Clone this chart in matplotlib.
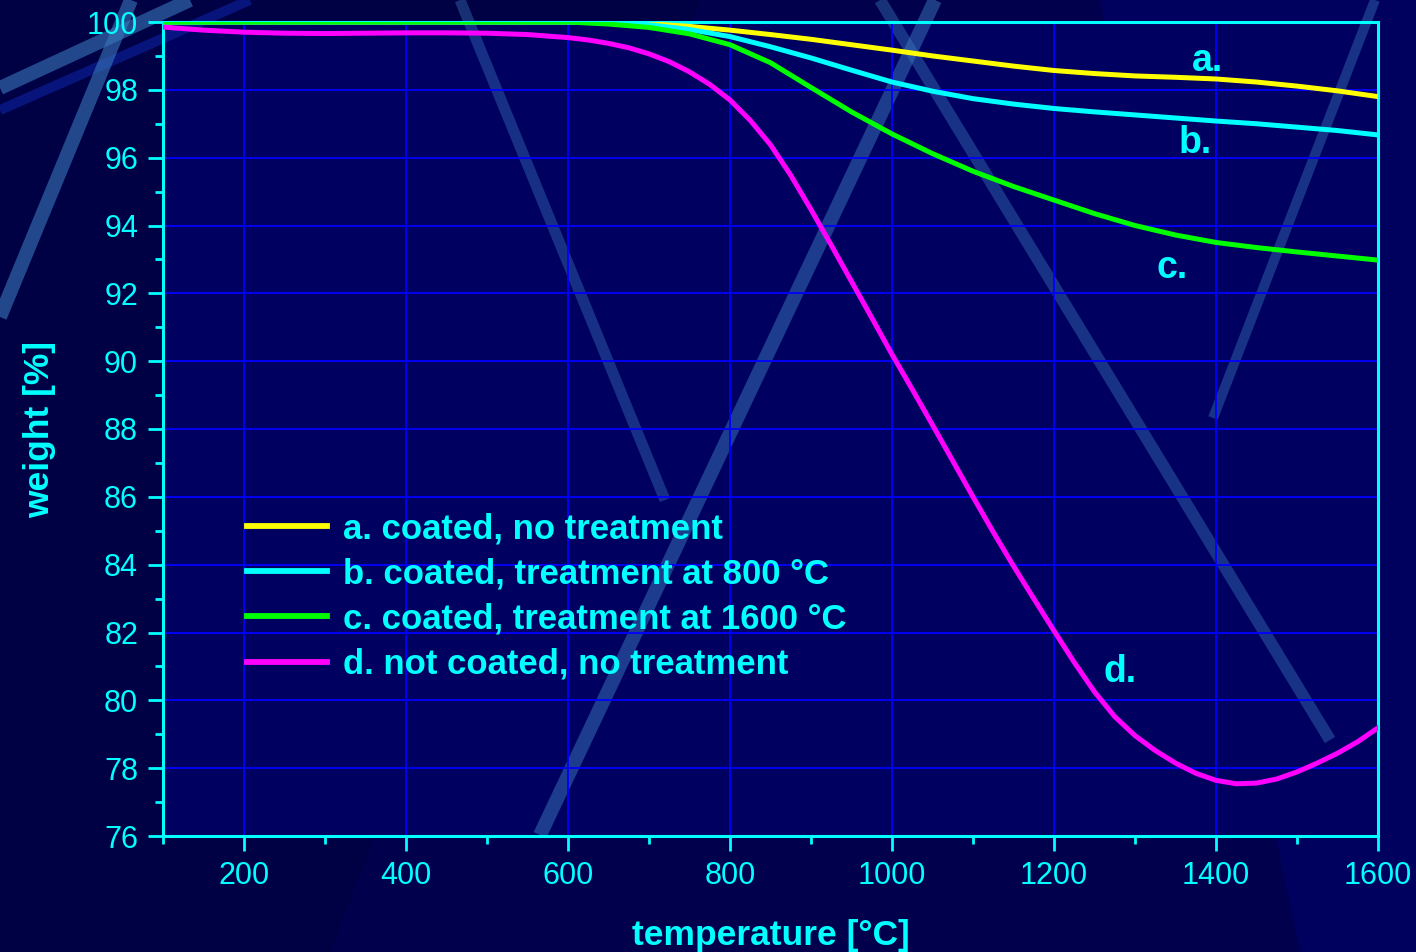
#Import Libraries
import numpy as np
from matplotlib import pyplot as plt
from matplotlib.lines import Line2D
import matplotlib.patches as mp

plt.rcParams['font.family'] = ['Liberation Sans', 'DejaVu Sans']

#Data
temp = [100, 150, 200, 250, 300, 350, 400, 450, 500, 550, 600, 650, 700, 750, 800, 850,
        900, 950, 1000, 1050, 1100, 1150, 1200, 1250, 1300, 1350, 1400, 1450, 1500, 1550, 1600]
w_a = [100, 100, 100, 100, 100, 100, 100, 100, 100, 100, 100, 99.99, 99.95, 99.87, 99.76, 99.63,
       99.49, 99.33, 99.17, 99.0, 98.85, 98.7, 98.57, 98.48, 98.41, 98.37, 98.32, 98.23, 98.11, 97.97, 97.8]
w_b = [100, 100, 100, 100, 100, 100, 100, 100, 100, 100, 100, 99.98, 99.92, 99.78, 99.57, 99.27,
       98.94, 98.58, 98.23, 97.96, 97.74, 97.58, 97.45, 97.35, 97.26, 97.17, 97.08, 97.0, 96.9, 96.8, 96.67]
w_c = [100, 100, 100, 100, 100, 100, 100, 100, 100, 100, 100, 99.94, 99.84, 99.65, 99.33, 98.8,
       98.07, 97.35, 96.7, 96.12, 95.6, 95.15, 94.75, 94.35, 94.0, 93.72, 93.5, 93.35, 93.22, 93.1, 92.98]

temp_d = [100, 150, 200, 250, 300, 350, 400, 450, 500, 550, 600, 625, 650, 675, 700, 725, 750, 775,
          800, 825, 850, 875, 900, 925, 950, 975, 1000, 1025, 1050, 1075, 1100, 1125, 1150, 1175,
          1200, 1225, 1250, 1275, 1300, 1325, 1350, 1375, 1400, 1425, 1450, 1475, 1500, 1525,
          1550, 1575, 1600]
w_d = [99.85, 99.76, 99.7, 99.67, 99.66, 99.67, 99.68, 99.68, 99.67, 99.63, 99.54, 99.47, 99.37,
       99.24, 99.06, 98.83, 98.53, 98.16, 97.7, 97.1, 96.38, 95.48, 94.47, 93.42, 92.35, 91.28, 90.2,
       89.17, 88.12, 87.06, 86.0, 84.96, 83.96, 83.0, 82.05, 81.12, 80.25, 79.52, 78.96, 78.52,
       78.15, 77.85, 77.64, 77.54, 77.56, 77.68, 77.89, 78.15, 78.44, 78.78, 79.19]

labels = ['a. coated, no treatment', 'b. coated, treatment at 800 °C',
          'c. coated, treatment at 1600 °C', 'd. not coated, no treatment']
colors = ['#FFFF00', '#00FFFF', '#00FF00', '#FF00FF']
tags = ['a.', 'b.', 'c.', 'd.']
tag_x = [1389, 1374, 1346, 1281]
tag_y = [98.85, 96.43, 92.75, 80.84]

CY = '#00FFFF'
W, H = 1416, 952

fig = plt.figure(figsize=(14.16, 9.52), dpi=100, facecolor='#00004c')

#Background decoration: plot-area panel and light diagonal streaks (pixel coords)
def px(x, y):
    return x / W, 1 - y / H

ax_l, ax_b, ax_w, ax_h = 163 / W, 1 - 836 / H, 1215 / W, 814 / H
fig.add_artist(mp.Polygon([px(0, 0), px(700, 0), px(330, 952), px(0, 952)], closed=True,
                          facecolor='#000044', edgecolor='none', zorder=-3))
fig.add_artist(mp.Polygon([px(1100, 0), px(1416, 0), px(1416, 952), px(1300, 952)], closed=True,
                          facecolor='#000070', edgecolor='none', alpha=0.5, zorder=-3))
fig.add_artist(mp.Rectangle((ax_l, ax_b), ax_w, ax_h, transform=fig.transFigure,
                            facecolor='#000060', edgecolor='none', zorder=-2))
streaks = [((0, 110), (250, 0), 10, '#0a1a8a', 0.8),
           ((0, 88), (190, 0), 14, '#3a78bc', 0.6),
           ((0, 317), (131, 0), 14, '#3a78bc', 0.6),
           ((460, 0), (665, 500), 11, '#3a78bc', 0.4),
           ((540, 835), (935, 0), 14, '#3a78bc', 0.5),
           ((880, 0), (1330, 740), 12, '#3a78bc', 0.42),
           ((1375, 0), (1213, 418), 10, '#3a78bc', 0.42)]
for p0, p1, lw, c, a in streaks:
    x0, y0 = px(*p0)
    x1, y1 = px(*p1)
    fig.add_artist(Line2D([x0, x1], [y0, y1], transform=fig.transFigure, lw=lw * 0.72,
                          color=c, alpha=a, solid_capstyle='butt', zorder=-1))

ax = fig.add_axes([ax_l, ax_b, ax_w, ax_h])
ax.patch.set_alpha(0)

series = [(temp, w_a), (temp, w_b), (temp, w_c), (temp_d, w_d)]
for (x, y), lab, c in zip(series, labels, colors):
    ax.plot(x, y, color=c, lw=3.6, label=lab, zorder=3)

for t, x, y in zip(tags, tag_x, tag_y):
    ax.text(x, y, t, color=CY, fontsize=27, fontweight='bold', ha='center', va='center', zorder=4)

ax.set_xlim(100, 1600)
ax.set_ylim(76, 100)
ax.set_xticks(np.arange(200, 1601, 200))
ax.set_xticks(np.arange(100, 1601, 100), minor=True)
ax.set_yticks(np.arange(76, 101, 2))
ax.set_yticks(np.arange(76, 101, 1), minor=True)
ax.grid(True, which='major', color='#0000FF', lw=1.3, zorder=1)
ax.set_axisbelow(True)

ax.tick_params(which='major', direction='out', length=11, width=2, color=CY,
               labelcolor=CY, labelsize=22, pad=7)
ax.tick_params(which='minor', direction='out', length=6, width=2, color=CY)
for s in ax.spines.values():
    s.set_color(CY)
    s.set_linewidth(2.2)

ax.set_xlabel('temperature [°C]', color=CY, fontsize=25.5, fontweight='bold', labelpad=20)
ax.set_ylabel('weight [%]', color=CY, fontsize=25.5, fontweight='bold', labelpad=22)

leg = ax.legend(loc='upper left', bbox_to_anchor=(0.055, 0.419), frameon=False,
                prop={'weight': 'bold', 'size': 25}, labelcolor=CY, handlelength=2.3,
                handletextpad=0.45, labelspacing=0.35, borderpad=0)
for h in leg.get_lines():
    h.set_linewidth(4.2)

plt.savefig('out.png', dpi=100, facecolor=fig.get_facecolor())
